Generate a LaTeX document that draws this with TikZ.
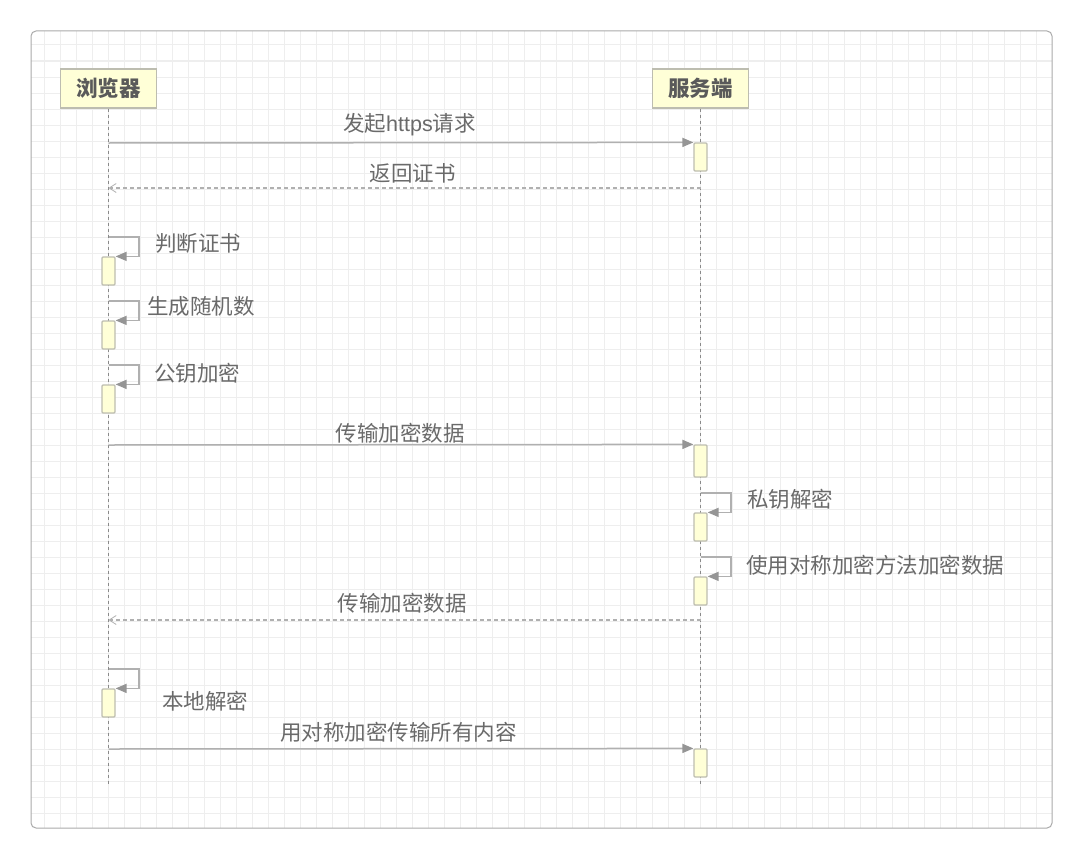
\documentclass[tikz,border=0pt]{standalone}
\usepackage{fontspec}
\setmainfont{Noto Sans CJK SC}
\newfontfamily\latinfont{Liberation Sans}
\usetikzlibrary{arrows.meta}
\definecolor{gridc}{HTML}{EEEEEE}
\definecolor{framec}{HTML}{AAAAAA}
\definecolor{linec}{HTML}{B0B0B0}
\definecolor{tipc}{HTML}{959595}
\definecolor{boxfill}{HTML}{FFFFD7}
\definecolor{boxdraw}{HTML}{BDBDB0}
\definecolor{textc}{HTML}{6A6A6A}
\definecolor{hdrtext}{HTML}{5A5A5A}
\definecolor{lifec}{HTML}{8A8A8A}
\tikzset{
  hdr/.style={draw=boxdraw, fill=boxfill, line width=1.2pt, minimum width=96pt, minimum height=39pt, inner sep=0pt, font=\fontsize{21.5}{24}\selectfont\bfseries, text=hdrtext},
  act/.style={draw=boxdraw, fill=boxfill, line width=1.2pt, minimum width=13pt, inner sep=0pt, rounded corners=1pt},
  life/.style={draw=lifec, line width=0.8pt, dash pattern=on 3pt off 3pt},
  msg/.style={draw=linec, line width=1.5pt, -{Triangle[length=11pt,width=9pt,fill=tipc,color=tipc]}},
  ret/.style={draw=linec, line width=1.2pt, dash pattern=on 4pt off 3pt, -{Straight Barb[length=7pt,width=9pt,line width=0.8pt]}},
  selfm/.style={draw=linec, line width=1.5pt, -{Triangle[length=11pt,width=9pt,fill=tipc,color=tipc]}},
  lbl/.style={font=\fontsize{21.5}{24}\selectfont, text=textc, inner sep=0pt},
}
\begin{document}
\begin{tikzpicture}[x=1pt,y=-1pt]
\useasboundingbox (0,0) rectangle (1083,859);
\fill[white] (0,0) rectangle (1083,859);
\begin{scope}
\clip[rounded corners=5pt] (31,31) rectangle (1052,828);
\foreach \x in {44,60,...,1036} \draw[gridc, line width=1pt] (\x,31) -- (\x,828);
\foreach \y in {45,61,...,813} \draw[gridc, line width=1pt] (31,\y) -- (1052,\y);
\end{scope}
\draw[framec, line width=1pt, rounded corners=5pt] (31,31) rectangle (1052,828);

% headers
\node[hdr] (b) at (108.5,88.5) {浏览器};
\node[hdr] (s) at (700.5,88.5) {服务端};
\coordinate (bend) at (108.5,784);
\coordinate (send) at (700.5,784);
\draw[life] (b.south) -- (bend);
\draw[life] (s.south) -- (send);

% activations
\node[act, minimum height=28pt] (a1) at (700.5,157) {};
\node[act, minimum height=28pt] (a3) at (108.5,271) {};
\node[act, minimum height=28pt] (a4) at (108.5,335) {};
\node[act, minimum height=28pt] (a5) at (108.5,399) {};
\node[act, minimum height=32pt] (a6) at (700.5,461) {};
\node[act, minimum height=28pt] (a7) at (700.5,527) {};
\node[act, minimum height=28pt] (a8) at (700.5,591) {};
\node[act, minimum height=28pt] (a10) at (108.5,703) {};
\node[act, minimum height=28pt] (a11) at (700.5,763) {};

% message 1
\coordinate (m1s) at (108.5,143);
\draw[msg] (m1s) -- (a1.north west);
\node[lbl] (l1) at (409.5,125) {发起{\latinfont https}请求};
% message 2
\coordinate (m2s) at (700.5,188);
\coordinate (m2e) at (108.5,188);
\draw[ret] (m2s) -- (m2e);
\node[lbl] (l2) at (412.5,173) {返回证书};
% self 3
\coordinate (m3s) at (108.5,237);
\draw[selfm] (m3s) -- ++(30.5,0) |- (a3.north east);
\node[lbl, anchor=west] (l3) at (155,243) {判断证书};
% self 4
\coordinate (m4s) at (108.5,301);
\draw[selfm] (m4s) -- ++(30.5,0) |- (a4.north east);
\node[lbl, anchor=west] (l4) at (147,306) {生成随机数};
% self 5
\coordinate (m5s) at (108.5,365);
\draw[selfm] (m5s) -- ++(30.5,0) |- (a5.north east);
\node[lbl, anchor=west] (l5) at (154,373) {公钥加密};
% message 6
\coordinate (m6s) at (108.5,445);
\draw[msg] (m6s) -- (a6.north west);
\node[lbl] (l6) at (400,433) {传输加密数据};
% self 7
\coordinate (m7s) at (700.5,493);
\draw[selfm] (m7s) -- ++(30.5,0) |- (a7.north east);
\node[lbl, anchor=west] (l7) at (747,499) {私钥解密};
% self 8
\coordinate (m8s) at (700.5,557);
\draw[selfm] (m8s) -- ++(30.5,0) |- (a8.north east);
\node[lbl, anchor=west] (l8) at (746,565) {使用对称加密方法加密数据};
% message 9
\coordinate (m9s) at (700.5,620);
\coordinate (m9e) at (108.5,620);
\draw[ret] (m9s) -- (m9e);
\node[lbl] (l9) at (402,603) {传输加密数据};
% self 10
\coordinate (m10s) at (108.5,669);
\draw[selfm] (m10s) -- ++(30.5,0) |- (a10.north east);
\node[lbl, anchor=west] (l10) at (162,701) {本地解密};
% message 11
\coordinate (m11s) at (108.5,749);
\draw[msg] (m11s) -- (a11.north west);
\node[lbl] (l11) at (398.5,732) {用对称加密传输所有内容};
\end{tikzpicture}
\end{document}
